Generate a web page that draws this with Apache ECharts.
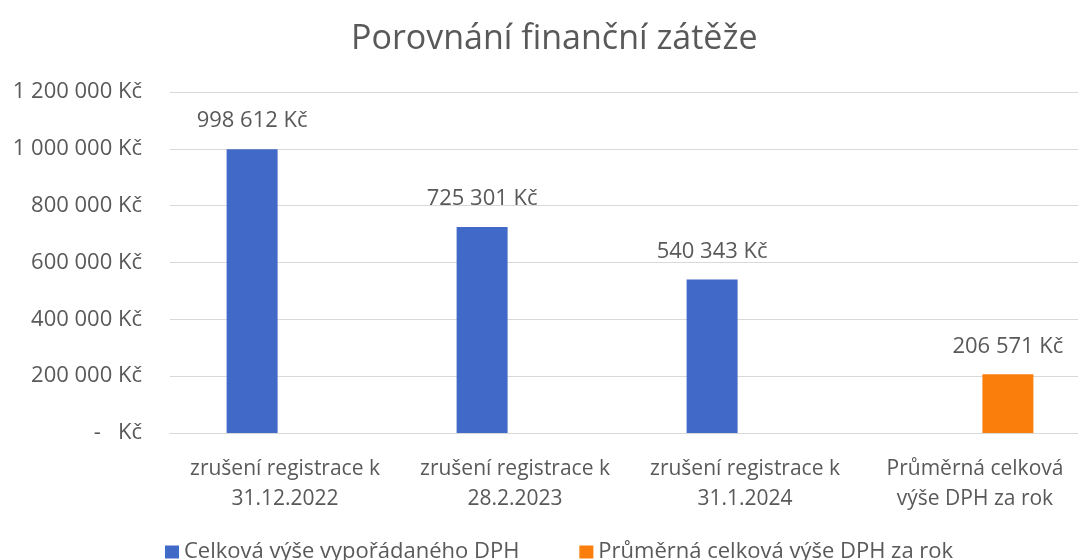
<!DOCTYPE html>
<html>
<head>
<meta charset="utf-8">
<script src="https://cdn.jsdelivr.net/npm/echarts@6/dist/echarts.min.js"></script>
<style>
html,body{margin:0;padding:0;background:#fff;overflow:hidden;width:1078px;height:560px;}
#chart{width:1090px;height:560px;}
</style>
</head>
<body>
<div id="chart"></div>
<script>
const categories = ["zrušení registrace k\n31.12.2022", "zrušení registrace k\n28.2.2023", "zrušení registrace k\n31.1.2024", "Průměrná celková\nvýše DPH za rok"];
const seriesNames = ["Celková výše vypořádaného DPH", "Průměrná celková výše DPH za rok"];
const settledVat = [998612, 725301, 540343, null];
const averageVat = [null, null, null, 206571];
const yTicks = [0, 200000, 400000, 600000, 800000, 1000000, 1200000];

function fmt(v) {
  if (v === 0) return "-   Kč";
  return String(Math.round(v)).replace(/\B(?=(\d{3})+(?!\d))/g, " ") + " Kč";
}

const FONT = "Open Sans";
const TXT = "#595959";
const chart = echarts.init(document.getElementById('chart'), null, {renderer: 'canvas'});
chart.setOption({
  animation: false,
  backgroundColor: '#ffffff',
  textStyle: {fontFamily: FONT},
  title: {
    text: "Porovnání finanční zátěže",
    left: 346, top: 17,
    textStyle: {fontFamily: FONT, fontSize: 34, fontWeight: 'normal', color: TXT}
  },
  legend: {
    left: 160, top: 536,
    icon: 'rect', itemWidth: 14, itemHeight: 13, itemGap: 60,
    data: seriesNames,
    textStyle: {fontFamily: FONT, fontSize: 22, color: TXT}
  },
  grid: {left: 170, right: 0, top: 92, bottom: 127, containLabel: false},
  xAxis: {
    type: 'category',
    data: categories,
    axisLine: {show: true, lineStyle: {color: '#d9d9d9', width: 1}},
    axisTick: {show: false},
    axisLabel: {fontFamily: FONT, fontSize: 21, color: TXT, lineHeight: 30, margin: 21, interval: 0}
  },
  yAxis: {
    type: 'value',
    min: yTicks[0], max: yTicks[yTicks.length - 1], interval: yTicks[1] - yTicks[0],
    axisLine: {show: false},
    axisTick: {show: false},
    splitLine: {lineStyle: {color: '#d9d9d9', width: 1}},
    axisLabel: {fontFamily: FONT, fontSize: 22, color: TXT, margin: 28, formatter: fmt, padding: [0, 0, 4, 0]}
  },
  series: [
    {
      name: seriesNames[0], type: 'bar', data: settledVat,
      barWidth: 51, barGap: '29%',
      itemStyle: {color: '#4169C7'},
      label: {show: true, position: 'top', distance: 17, formatter: p => fmt(p.value), fontFamily: FONT, fontSize: 22, color: TXT}
    },
    {
      name: seriesNames[1], type: 'bar', data: averageVat,
      barWidth: 51,
      itemStyle: {color: '#F97E0C'},
      label: {show: true, position: 'top', distance: 17, formatter: p => fmt(p.value), fontFamily: FONT, fontSize: 22, color: TXT}
    }
  ]
});
</script>
</body>
</html>
